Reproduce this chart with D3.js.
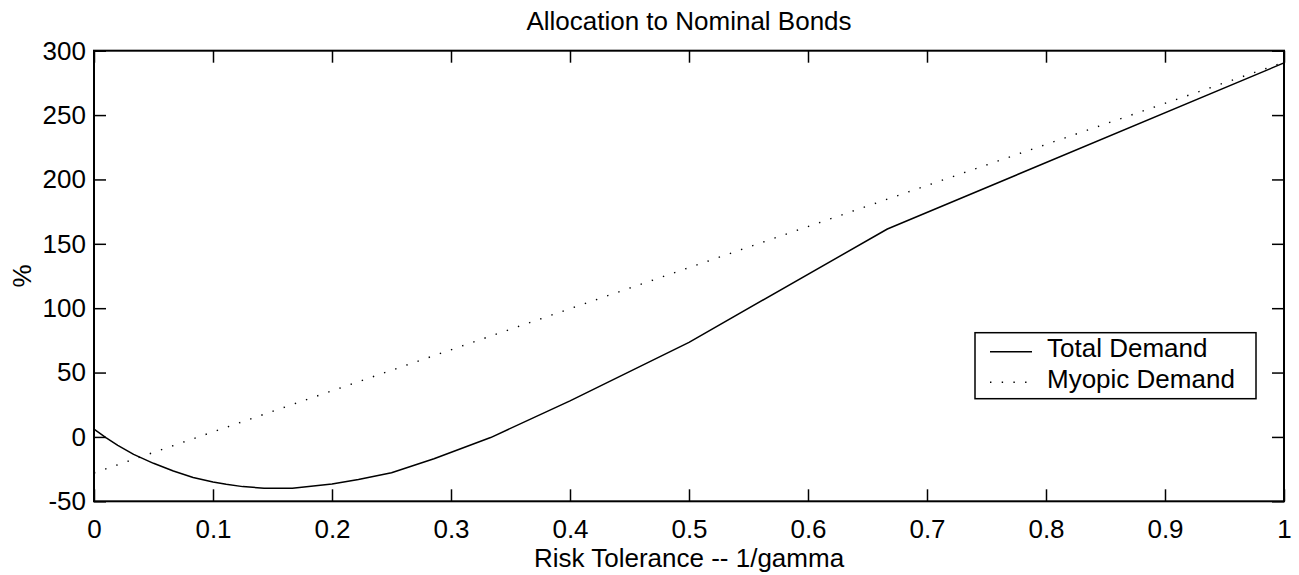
<!DOCTYPE html>
<html>
<head>
<meta charset="utf-8">
<script src="https://cdn.jsdelivr.net/npm/d3@7"></script>
<style>
  html, body { margin: 0; padding: 0; background: #fff; }
  svg { display: block; }
  text { font-family: "Liberation Sans", Arial, Helvetica, sans-serif; fill: #000; }
</style>
</head>
<body>
<svg id="chart" width="1299" height="575"></svg>
<script>
// ---- data ----
const riskTolerance = [0, 0.01, 0.02, 0.0333, 0.05, 0.0667, 0.0833, 0.1, 0.1111, 0.125, 0.1429, 0.1667, 0.2, 0.2222, 0.25, 0.2857, 0.3333, 0.4, 0.5, 0.6667, 1];
const totalDemand   = [6, -0.5, -6.5, -13.5, -20.5, -26.5, -31.5, -35, -36.8, -38.6, -39.8, -39.9, -36.6, -33, -27.8, -17, -0.5, 28, 73.5, 161.5, 290.5];
const myopicX       = [0, 1];
const myopicDemand  = [-28, 291];
const xTicks = [0, 0.1, 0.2, 0.3, 0.4, 0.5, 0.6, 0.7, 0.8, 0.9, 1];
const yTicks = [-50, 0, 50, 100, 150, 200, 250, 300];
const seriesNames = ["Total Demand", "Myopic Demand"];
const titleText = "Allocation to Nominal Bonds";
const xLabelText = "Risk Tolerance -- 1/gamma";
const yLabelText = "%";

// ---- layout ----
const L = 94, R = 1284, T = 50.7, B = 501.3;
const FS = 26;
const tickLen = 12;

const svg = d3.select("#chart");
const x = d3.scaleLinear().domain([0, 1]).range([L, R]);
const y = d3.scaleLinear().domain([-50, 300]).range([B, T]);

// lines
const totalPts = riskTolerance.map((d, i) => [d, totalDemand[i]]);
const myopicPts = myopicX.map((d, i) => [d, myopicDemand[i]]);
const straight = d3.line().x(d => x(d[0])).y(d => y(d[1]));

svg.append("path").datum(myopicPts).attr("d", straight)
  .attr("fill", "none").attr("stroke", "#000").attr("stroke-width", 1.4)
  .attr("stroke-dasharray", "1.4,10.4");
svg.append("path").datum(totalPts).attr("d", straight)
  .attr("fill", "none").attr("stroke", "#000").attr("stroke-width", 1.5)
  .attr("stroke-linejoin", "round");

// axes (inward ticks) bottom/left with labels, top/right mirrored
const gx = svg.append("g").attr("transform", `translate(0,${B})`)
  .call(d3.axisBottom(x).tickValues(xTicks).tickSize(-tickLen).tickPadding(18)
    .tickFormat(d => String(+d.toFixed(1))));
const gy = svg.append("g").attr("transform", `translate(${L},0)`)
  .call(d3.axisLeft(y).tickValues(yTicks).tickSize(-tickLen).tickPadding(8)
    .tickFormat(d => String(d)));
const gxt = svg.append("g").attr("transform", `translate(0,${T})`)
  .call(d3.axisTop(x).tickValues(xTicks).tickSize(-tickLen).tickFormat(""));
const gyr = svg.append("g").attr("transform", `translate(${R},0)`)
  .call(d3.axisRight(y).tickValues(yTicks).tickSize(-tickLen).tickFormat(""));

[gx, gy, gxt, gyr].forEach(g => {
  g.select(".domain").remove();
  g.selectAll(".tick line").attr("stroke", "#000").attr("stroke-width", 1.5);
  g.selectAll(".tick text").attr("font-size", FS).attr("font-family", "Liberation Sans, Arial, sans-serif").attr("fill", "#000");
});

// frame
svg.append("rect").attr("x", L).attr("y", T).attr("width", R - L).attr("height", B - T)
  .attr("fill", "none").attr("stroke", "#000").attr("stroke-width", 2);

// title & labels
svg.append("text").attr("x", (L + R) / 2).attr("y", 30).attr("text-anchor", "middle")
  .attr("font-size", FS).text(titleText);
svg.append("text").attr("x", (L + R) / 2).attr("y", 567).attr("text-anchor", "middle")
  .attr("font-size", FS).text(xLabelText);
svg.append("text").attr("transform", `translate(31,${(T + B) / 2}) rotate(-90)`)
  .attr("text-anchor", "middle").attr("font-size", FS).text(yLabelText);

// legend
const lg = svg.append("g");
lg.append("rect").attr("x", 975).attr("y", 332.7).attr("width", 281).attr("height", 66)
  .attr("fill", "#fff").attr("stroke", "#000").attr("stroke-width", 1.5);
const legY = [351.7, 382.3];
lg.append("line").attr("x1", 990).attr("x2", 1032).attr("y1", legY[0]).attr("y2", legY[0])
  .attr("stroke", "#000").attr("stroke-width", 1.5);
lg.append("line").attr("x1", 990).attr("x2", 1032).attr("y1", legY[1]).attr("y2", legY[1])
  .attr("stroke", "#000").attr("stroke-width", 1.4).attr("stroke-dasharray", "1.4,10.3");
seriesNames.forEach((n, i) => {
  lg.append("text").attr("x", 1047).attr("y", legY[i] + 5.5)
    .attr("font-size", FS).text(n);
});
</script>
</body>
</html>
